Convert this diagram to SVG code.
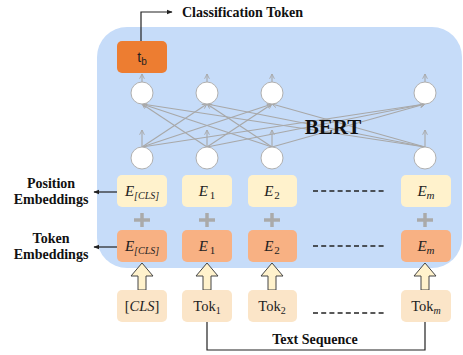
<svg xmlns="http://www.w3.org/2000/svg" width="463" height="355" viewBox="0 0 463 355">
<defs>
<style>
.lbl{font-family:"Liberation Serif",serif;font-weight:bold;font-size:14px;fill:#111}
.ei{font-family:"Liberation Serif",serif;font-style:italic;font-size:15px;fill:#222}
.tk{font-family:"Liberation Serif",serif;font-size:14.5px;fill:#222}
.pos{fill:#FFF2CC}
.tok{fill:#F8B183}
.txt{fill:#FBE5C8}
.circ{fill:#fff;stroke:#b0b0b0;stroke-width:1}
.cn{stroke:#a8a8a8;stroke-width:1.1;fill:none;marker-end:url(#ga)}
.dash{stroke:#222;stroke-width:1.4;stroke-dasharray:5 3.2}
.plus{stroke:#aaaaaa;stroke-width:3.5}
.blk{stroke:#222;stroke-width:1.2;fill:none}
.hol{fill:#FFF2CC;stroke:#444;stroke-width:1}
</style>
<marker id="ga" viewBox="0 0 10 10" refX="9" refY="5" markerWidth="6" markerHeight="6" orient="auto" markerUnits="userSpaceOnUse">
<path d="M1,1 L9,5 L1,9" fill="none" stroke="#a8a8a8" stroke-width="1.5"/>
</marker>
<marker id="ba" viewBox="0 0 10 10" refX="9" refY="5" markerWidth="6" markerHeight="6" orient="auto" markerUnits="userSpaceOnUse">
<path d="M0,1 L10,5 L0,9 Z" fill="#222"/>
</marker>
</defs>

<rect id="bert-bg" x="97" y="27" width="365" height="241" rx="30" fill="#C6DCF9"/>

<g id="tb">
<rect x="117" y="41" width="50" height="32" rx="5" fill="#ED7D31"/>
<text x="142" y="62" text-anchor="middle" font-family="Liberation Sans,sans-serif" font-size="14" fill="#222">t<tspan font-size="10" dy="3">b</tspan></text>
</g>

<g id="cls-label">
<text class="lbl" x="182" y="17">Classification Token</text>
</g>

<g id="connectors">
<path class="blk" d="M141,41 V12 H172" marker-end="url(#ba)"/>
<line class="blk" x1="117" y1="192" x2="94" y2="192" marker-end="url(#ba)"/>
<line class="blk" x1="117" y1="247" x2="94" y2="247" marker-end="url(#ba)"/>
<path class="blk" d="M207,322 V350 H425 V322" stroke="#444"/>
<line class="cn" x1="142" y1="82" x2="142" y2="74"/>
<line class="cn" x1="207" y1="82" x2="207" y2="74"/>
<line class="cn" x1="272" y1="82" x2="272" y2="74"/>
<line class="cn" x1="425" y1="82" x2="425" y2="74"/>
<line class="cn" x1="142" y1="147" x2="142" y2="130"/>
<line class="cn" x1="207" y1="147" x2="207" y2="130"/>
<line class="cn" x1="272" y1="147" x2="272" y2="130"/>
<line class="cn" x1="425" y1="147" x2="425" y2="130"/>
<line class="cn" x1="142" y1="147" x2="207" y2="104"/>
<line class="cn" x1="142" y1="147" x2="272" y2="104"/>
<line class="cn" x1="142" y1="147" x2="425" y2="104"/>
<line class="cn" x1="207" y1="147" x2="142" y2="104"/>
<line class="cn" x1="207" y1="147" x2="272" y2="104"/>
<line class="cn" x1="207" y1="147" x2="425" y2="104"/>
<line class="cn" x1="272" y1="147" x2="142" y2="104"/>
<line class="cn" x1="272" y1="147" x2="207" y2="104"/>
<line class="cn" x1="272" y1="147" x2="425" y2="104"/>
<line class="cn" x1="425" y1="147" x2="142" y2="104"/>
<line class="cn" x1="425" y1="147" x2="207" y2="104"/>
<line class="cn" x1="425" y1="147" x2="272" y2="104"/>
</g>

<g id="bert-label"><text x="333" y="134" text-anchor="middle" font-family="Liberation Serif,serif" font-weight="bold" font-size="21" fill="#111">BERT</text></g>

<g id="upper-circles">
<circle class="circ" cx="142" cy="93" r="11"/>
<circle class="circ" cx="207" cy="93" r="11"/>
<circle class="circ" cx="272" cy="93" r="11"/>
<circle class="circ" cx="425" cy="93" r="11"/>
</g>
<g id="lower-circles">
<circle class="circ" cx="142" cy="158" r="11"/>
<circle class="circ" cx="207" cy="158" r="11"/>
<circle class="circ" cx="272" cy="158" r="11"/>
<circle class="circ" cx="425" cy="158" r="11"/>
</g>

<g id="pos-label">
<text class="lbl" x="51" y="188" text-anchor="middle">Position</text>
<text class="lbl" x="51" y="204" text-anchor="middle">Embeddings</text>
</g>
<g id="tok-label">
<text class="lbl" x="51" y="243" text-anchor="middle">Token</text>
<text class="lbl" x="51" y="259" text-anchor="middle">Embeddings</text>
</g>

<g id="pos-emb">
<rect class="pos" x="117" y="175" width="50" height="32" rx="5"/>
<rect class="pos" x="182" y="175" width="50" height="32" rx="5"/>
<rect class="pos" x="248" y="175" width="49" height="32" rx="5"/>
<rect class="pos" x="401" y="175" width="50" height="32" rx="5"/>
<text class="ei" x="142" y="196" text-anchor="middle">E<tspan font-size="10" dy="3">[CLS]</tspan></text>
<text class="ei" x="207" y="196" text-anchor="middle">E<tspan font-size="11" font-style="normal" dy="3" dx="2">1</tspan></text>
<text class="ei" x="272" y="196" text-anchor="middle">E<tspan font-size="11" font-style="normal" dy="3" dx="1">2</tspan></text>
<text class="ei" x="426" y="196" text-anchor="middle">E<tspan font-size="11" dy="3">m</tspan></text>
<line class="dash" x1="313" y1="191" x2="384" y2="191"/>
</g>

<g id="plus">
<path class="plus" d="M134,220 H150 M142,213 V227"/>
<path class="plus" d="M199,220 H215 M207,213 V227"/>
<path class="plus" d="M264,220 H280 M272,213 V227"/>
<path class="plus" d="M417,220 H433 M425,213 V227"/>
</g>

<g id="tok-emb">
<rect class="tok" x="117" y="230" width="50" height="32" rx="5"/>
<rect class="tok" x="182" y="230" width="50" height="32" rx="5"/>
<rect class="tok" x="248" y="230" width="49" height="32" rx="5"/>
<rect class="tok" x="401" y="230" width="50" height="32" rx="5"/>
<text class="ei" x="142" y="251" text-anchor="middle">E<tspan font-size="10" dy="3">[CLS]</tspan></text>
<text class="ei" x="207" y="251" text-anchor="middle">E<tspan font-size="11" font-style="normal" dy="3" dx="2">1</tspan></text>
<text class="ei" x="272" y="251" text-anchor="middle">E<tspan font-size="11" font-style="normal" dy="3" dx="1">2</tspan></text>
<text class="ei" x="426" y="251" text-anchor="middle">E<tspan font-size="11" dy="3">m</tspan></text>
<line class="dash" x1="313" y1="246" x2="384" y2="246"/>
</g>

<g id="hollow-arrows">
<path class="hol" d="M142,263 L153,276 L146,276 L146,290 L138,290 L138,276 L131,276 Z"/>
<path class="hol" d="M207,263 L218,276 L211,276 L211,290 L203,290 L203,276 L196,276 Z"/>
<path class="hol" d="M272,263 L283,276 L276,276 L276,290 L268,290 L268,276 L261,276 Z"/>
<path class="hol" d="M425,263 L436,276 L429,276 L429,290 L421,290 L421,276 L414,276 Z"/>
</g>

<g id="tokens">
<rect class="txt" x="117" y="290" width="50" height="32" rx="5"/>
<rect class="txt" x="182" y="290" width="50" height="32" rx="5"/>
<rect class="txt" x="248" y="290" width="49" height="32" rx="5"/>
<rect class="txt" x="401" y="290" width="50" height="32" rx="5"/>
<text class="tk" x="142" y="311" text-anchor="middle">[<tspan font-style="italic">CLS</tspan>]</text>
<text class="tk" x="207" y="311" text-anchor="middle">Tok<tspan font-size="10" dy="3">1</tspan></text>
<text class="tk" x="272" y="311" text-anchor="middle">Tok<tspan font-size="10" dy="3">2</tspan></text>
<text class="tk" x="426" y="311" text-anchor="middle">Tok<tspan font-size="10" font-style="italic" dy="3">m</tspan></text>
<line class="dash" x1="313" y1="313" x2="384" y2="313"/>
</g>

<g id="seq-label"><text class="lbl" x="315" y="344" text-anchor="middle">Text Sequence</text></g>
</svg>
